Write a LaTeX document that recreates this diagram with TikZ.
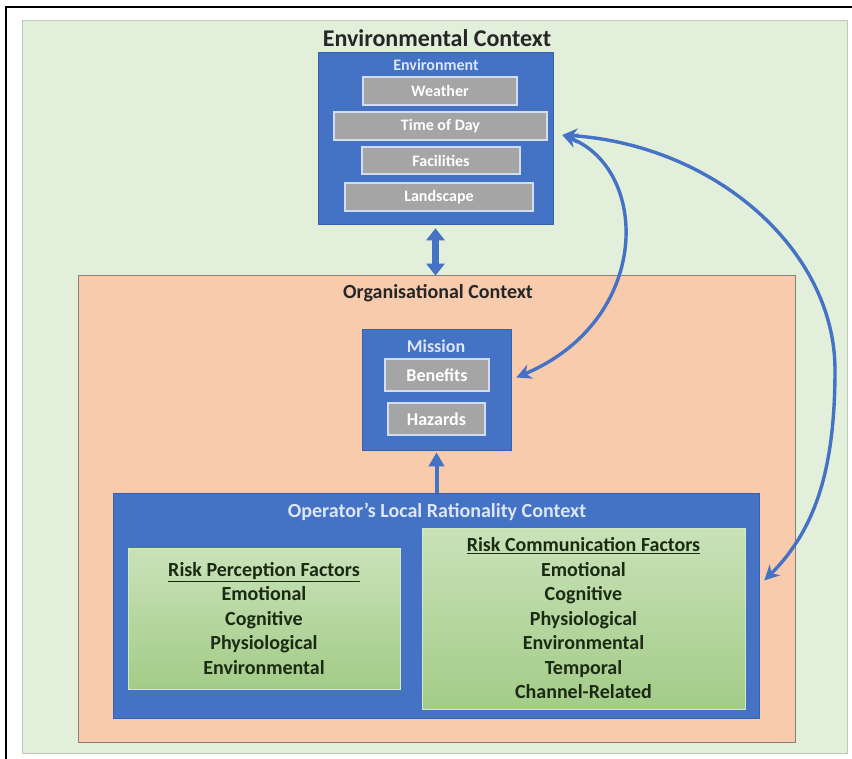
\documentclass[tikz,border=0pt]{standalone}
\usepackage{fontspec}
\setmainfont{Carlito}
\usetikzlibrary{arrows.meta,calc}

\definecolor{bgGreen}{HTML}{E2EFDA}
\definecolor{bgGreenLine}{HTML}{BFC9BA}
\definecolor{orgOrange}{HTML}{F8CBAD}
\definecolor{orgLine}{HTML}{8C7F78}
\definecolor{boxBlue}{HTML}{4472C4}
\definecolor{itemGray}{HTML}{A5A5A5}
\definecolor{itemLine}{HTML}{D3DDF0}
\definecolor{paleText}{HTML}{DCE6F7}
\definecolor{darkText}{HTML}{262626}
\definecolor{factorText}{HTML}{1C2A14}
\definecolor{factorTop}{HTML}{C9E2B8}
\definecolor{factorBottom}{HTML}{A3CC88}

\tikzset{
  panel/.style={draw=#1, line width=0.8pt, inner sep=0pt},
  bluebox/.style={fill=boxBlue, draw=boxBlue!85!black, line width=0.6pt, inner sep=0pt},
  itembox/.style={fill=itemGray, draw=itemLine, line width=1.4pt, inner sep=0pt,
    text=white, font=\bfseries\fontsize{16}{18}\selectfont},
  factorbox/.style={top color=factorTop, bottom color=factorBottom, draw=factorTop!80!white,
    line width=0.6pt, inner sep=0pt},
  factortext/.style={text=factorText, align=center, font=\bfseries\fontsize{20}{24.5}\selectfont},
  heading/.style={text=darkText, font=\bfseries\fontsize{#1}{#1}\selectfont},
  bluelabel/.style={text=paleText, font=\bfseries\fontsize{#1}{#1}\selectfont},
  link/.style={draw=boxBlue, line width=3.4pt, {Stealth[length=15pt,width=15pt]}-{Stealth[length=15pt,width=15pt]}},
}

\begin{document}
\begin{tikzpicture}[x=1pt, y=-1pt]
\useasboundingbox (0,0) rectangle (852,759);
\fill[white] (0,0) rectangle (852,759);

% outer frame (top and left rules)
\draw[black, line width=1.6pt] (6,759) -- (6,7) -- (852,7);

% environmental context panel
\node[panel=bgGreenLine, fill=bgGreen, minimum width=825pt, minimum height=733pt] (envctx) at (434.5,386.5) {};
\node[heading=24] (envtitle) at (437,38) {Environmental Context};

% organisational context panel
\node[panel=orgLine, fill=orgOrange, minimum width=717pt, minimum height=467pt] (org) at (436.5,508.5) {};
\node[heading=20] (orgtitle) at (438,293) {Organisational Context};

% environment block
\node[bluebox, minimum width=235pt, minimum height=172pt] (env) at (435.5,138) {};
\node[bluelabel=16] (envlabel) at (436,65) {Environment};
\node[itembox, minimum width=154pt, minimum height=28pt] (weather) at (440,91) {Weather};
\node[itembox, minimum width=213pt, minimum height=28pt] (timeofday) at (440.5,126) {Time of Day};
\node[itembox, minimum width=158pt, minimum height=27pt] (facilities) at (441,160.5) {Facilities};
\node[itembox, minimum width=188pt, minimum height=28pt] (landscape) at (439,197) {Landscape};

% mission block
\node[bluebox, minimum width=149pt, minimum height=121pt] (mission) at (436.5,389.5) {};
\node[bluelabel=18] (missionlabel) at (436,346) {Mission};
\node[itembox, font=\bfseries\fontsize{18}{20}\selectfont, minimum width=104pt, minimum height=32pt] (benefits) at (437,375) {Benefits};
\node[itembox, font=\bfseries\fontsize{18}{20}\selectfont, minimum width=97pt, minimum height=32pt] (hazards) at (436.5,419) {Hazards};

% operator's local rationality context
\node[bluebox, minimum width=646pt, minimum height=225pt] (local) at (436,605.5) {};
\node[bluelabel=20] (localtitle) at (437,512) {Operator’s Local Rationality Context};

\node[factorbox, minimum width=272pt, minimum height=141pt] (perception) at (264,618.5) {};
\node[factortext] (perceptiontext) at (perception.center)
  {\underline{Risk Perception Factors}\\Emotional\\Cognitive\\Physiological\\Environmental};

\node[factorbox, minimum width=323pt, minimum height=181pt] (communication) at (583.5,618.5) {};
\node[factortext] (communicationtext) at (communication.center)
  {\underline{Risk Communication Factors}\\Emotional\\Cognitive\\Physiological\\Environmental\\Temporal\\Channel-Related};

% connectors
\draw[draw=boxBlue, line width=7pt,
  {Triangle[length=12pt,width=18pt]}-{Triangle[length=12pt,width=18pt]}]
  ([yshift=-4pt]env.south) -- ([yshift=-1pt]org.north -| env.south);
\draw[draw=boxBlue, line width=4pt, -{Triangle[length=14pt,width=15pt]}]
  (local.north -| mission.south) -- ([yshift=-2pt]mission.south);

\coordinate (envport) at ([xshift=9pt,yshift=3pt]env.east);
\draw[link] (envport) .. controls (650,170) and (652,320) .. ([xshift=5pt,yshift=12pt]mission.east);
\draw[link] (envport) .. controls (715,145) and (835,250) .. (835,370)
  .. controls (835,470) and (815,530) .. ([xshift=5pt,yshift=25pt]local.east);
\end{tikzpicture}
\end{document}
